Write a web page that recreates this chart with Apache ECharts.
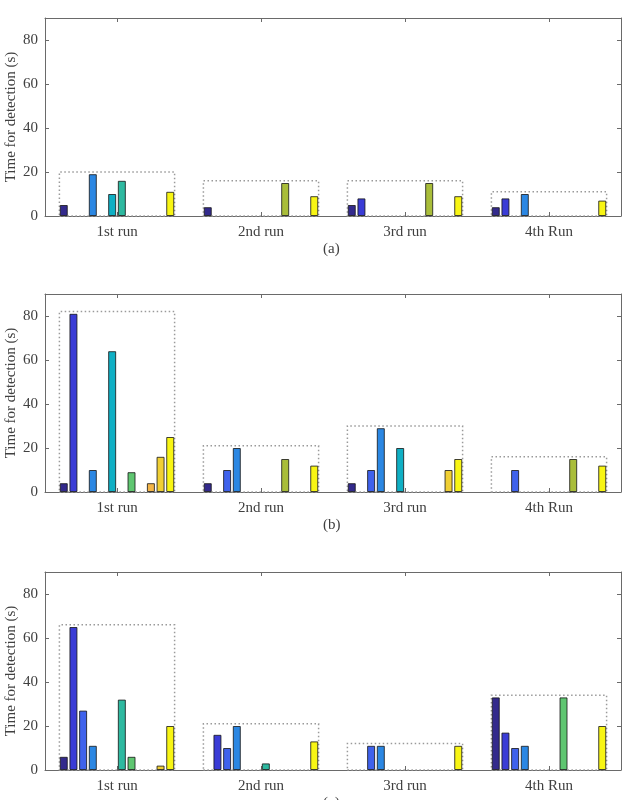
<!DOCTYPE html>
<html>
<head>
<meta charset="utf-8">
<script src="https://cdn.jsdelivr.net/npm/echarts@6/dist/echarts.min.js"></script>
<style>html,body{margin:0;padding:0;background:#fff;}#chart{width:626px;height:800px;}</style>
</head>
<body>
<div id="chart"></div>
<script>
const categories = ['1st run', '2nd run', '3rd run', '4th Run'];
const captions = ['(a)', '(b)', '(c)'];
const yTickValues = [0, 20, 40, 60, 80];
const yLabel = 'Time for detection (s)';

// 12 grouped series (slot colours follow a parula-like map); null = no bar
const seriesColors = ['#332A8C', '#3A3CD6', '#3F62EC', '#2B87E3', '#1AA1D8', '#0FAFC4',
                      '#2EB9A0', '#5FC671', '#A9BD3A', '#F4B548', '#F0CF34', '#F8F514'];

const panelA = [
  [5, 4, 5, 4],
  [null, null, 8, 8],
  [null, null, null, null],
  [19, null, null, 10],
  [null, null, null, null],
  [10, null, null, null],
  [16, null, null, null],
  [null, null, null, null],
  [null, 15, 15, null],
  [null, null, null, null],
  [null, null, null, null],
  [11, 9, 9, 7]
];
const boxA = [20, 16, 16, 11];

const panelB = [
  [4, 4, 4, null],
  [81, null, null, null],
  [null, 10, 10, 10],
  [10, 20, 29, null],
  [null, null, null, null],
  [64, null, 20, null],
  [null, null, null, null],
  [9, null, null, null],
  [null, 15, null, 15],
  [4, null, null, null],
  [16, null, 10, null],
  [25, 12, 15, 12]
];
const boxB = [82, 21, 30, 16];

const panelC = [
  [6, null, null, 33],
  [65, 16, null, 17],
  [27, 10, 11, 10],
  [11, 20, 11, 11],
  [null, null, null, null],
  [null, null, null, null],
  [32, 3, null, null],
  [6, null, null, 33],
  [null, null, null, null],
  [null, null, null, null],
  [2, null, null, null],
  [20, 13, 11, 20]
];
const boxC = [66, 21, 12, 34];

const panels = [panelA, panelB, panelC];
const boxes = [boxA, boxB, boxC];
const gridTops = [18, 294, 572];
const gridH = 198;
const FONT = 'Liberation Serif';
const TXT = '#404040';
const AX = '#6a6a6a';

const option = {
  animation: false,
  backgroundColor: '#ffffff',
  grid: [], xAxis: [], yAxis: [], series: [], graphic: []
};

panels.forEach((data, p) => {
  option.grid.push({ left: 45, right: 5, top: gridTops[p], height: gridH, containLabel: false, outerBoundsMode: 'none' });
  // bottom category axis
  option.xAxis.push({
    type: 'category', gridIndex: p, data: categories, position: 'bottom',
    axisLine: { show: true, onZero: false, lineStyle: { color: AX, width: 1 } },
    axisTick: { show: true, inside: true, alignWithLabel: true, length: 4, lineStyle: { color: AX } },
    axisLabel: { show: true, margin: 9, fontSize: 15, fontFamily: FONT, color: TXT },
    splitLine: { show: false }
  });
  // top mirror axis (frame + ticks)
  option.xAxis.push({
    type: 'category', gridIndex: p, data: categories, position: 'top',
    axisLine: { show: true, onZero: false, lineStyle: { color: AX, width: 1 } },
    axisTick: { show: true, inside: true, alignWithLabel: true, length: 4, lineStyle: { color: AX } },
    axisLabel: { show: false }, splitLine: { show: false }
  });
  // hidden value axis for dotted group boxes
  option.xAxis.push({
    type: 'value', gridIndex: p, min: 0.5, max: 4.5, show: false, splitLine: { show: false }
  });
  option.yAxis.push({
    type: 'value', gridIndex: p, min: 0, max: 90, interval: 20, position: 'left',
    name: yLabel, nameLocation: 'middle', nameGap: 26, nameMoveOverlap: false,
    nameTextStyle: { fontSize: 15, fontFamily: FONT, color: TXT },
    axisLine: { show: true, lineStyle: { color: AX, width: 1 } },
    axisTick: { show: true, inside: true, length: 4, lineStyle: { color: AX } },
    axisLabel: { margin: 7, fontSize: 15, fontFamily: FONT, color: TXT,
      formatter: v => (yTickValues.indexOf(v) >= 0 ? String(v) : '') },
    splitLine: { show: false }
  });
  option.yAxis.push({
    type: 'value', gridIndex: p, min: 0, max: 90, interval: 20, position: 'right',
    axisLine: { show: true, lineStyle: { color: AX, width: 1 } },
    axisTick: { show: true, inside: true, length: 4, lineStyle: { color: AX } },
    axisLabel: { show: false }, splitLine: { show: false }
  });

  data.forEach((vals, s) => {
    option.series.push({
      type: 'bar', name: 'p' + p + 's' + s,
      xAxisIndex: 3 * p, yAxisIndex: 2 * p,
      data: vals.map(v => (v == null ? '-' : v)),
      barWidth: 8, barGap: '21%',
      itemStyle: { color: seriesColors[s], borderColor: 'rgba(20,20,20,0.8)', borderWidth: 1 },
      silent: true, z: 2
    });
  });

  option.series.push({
    type: 'line', name: 'box' + p, xAxisIndex: 3 * p + 2, yAxisIndex: 2 * p,
    data: [], symbol: 'none', silent: true,
    markArea: {
      silent: true,
      label: { show: false },
      itemStyle: { color: 'rgba(0,0,0,0)', borderColor: '#9a9a9a', borderWidth: 1.5, borderType: [1.5, 2.5] },
      data: boxes[p].map((h, i) => [{ coord: [i + 1 - 0.4, 0] }, { coord: [i + 1 + 0.4, h] }])
    }
  });

  option.graphic.push({
    type: 'text', left: 333 - 10, top: gridTops[p] + gridH + 26,
    style: { text: captions[p], font: '15px "' + FONT + '"', fill: TXT }
  });
});

const chart = echarts.init(document.getElementById('chart'), null, { renderer: 'canvas' });
chart.setOption(option);
</script>
</body>
</html>
